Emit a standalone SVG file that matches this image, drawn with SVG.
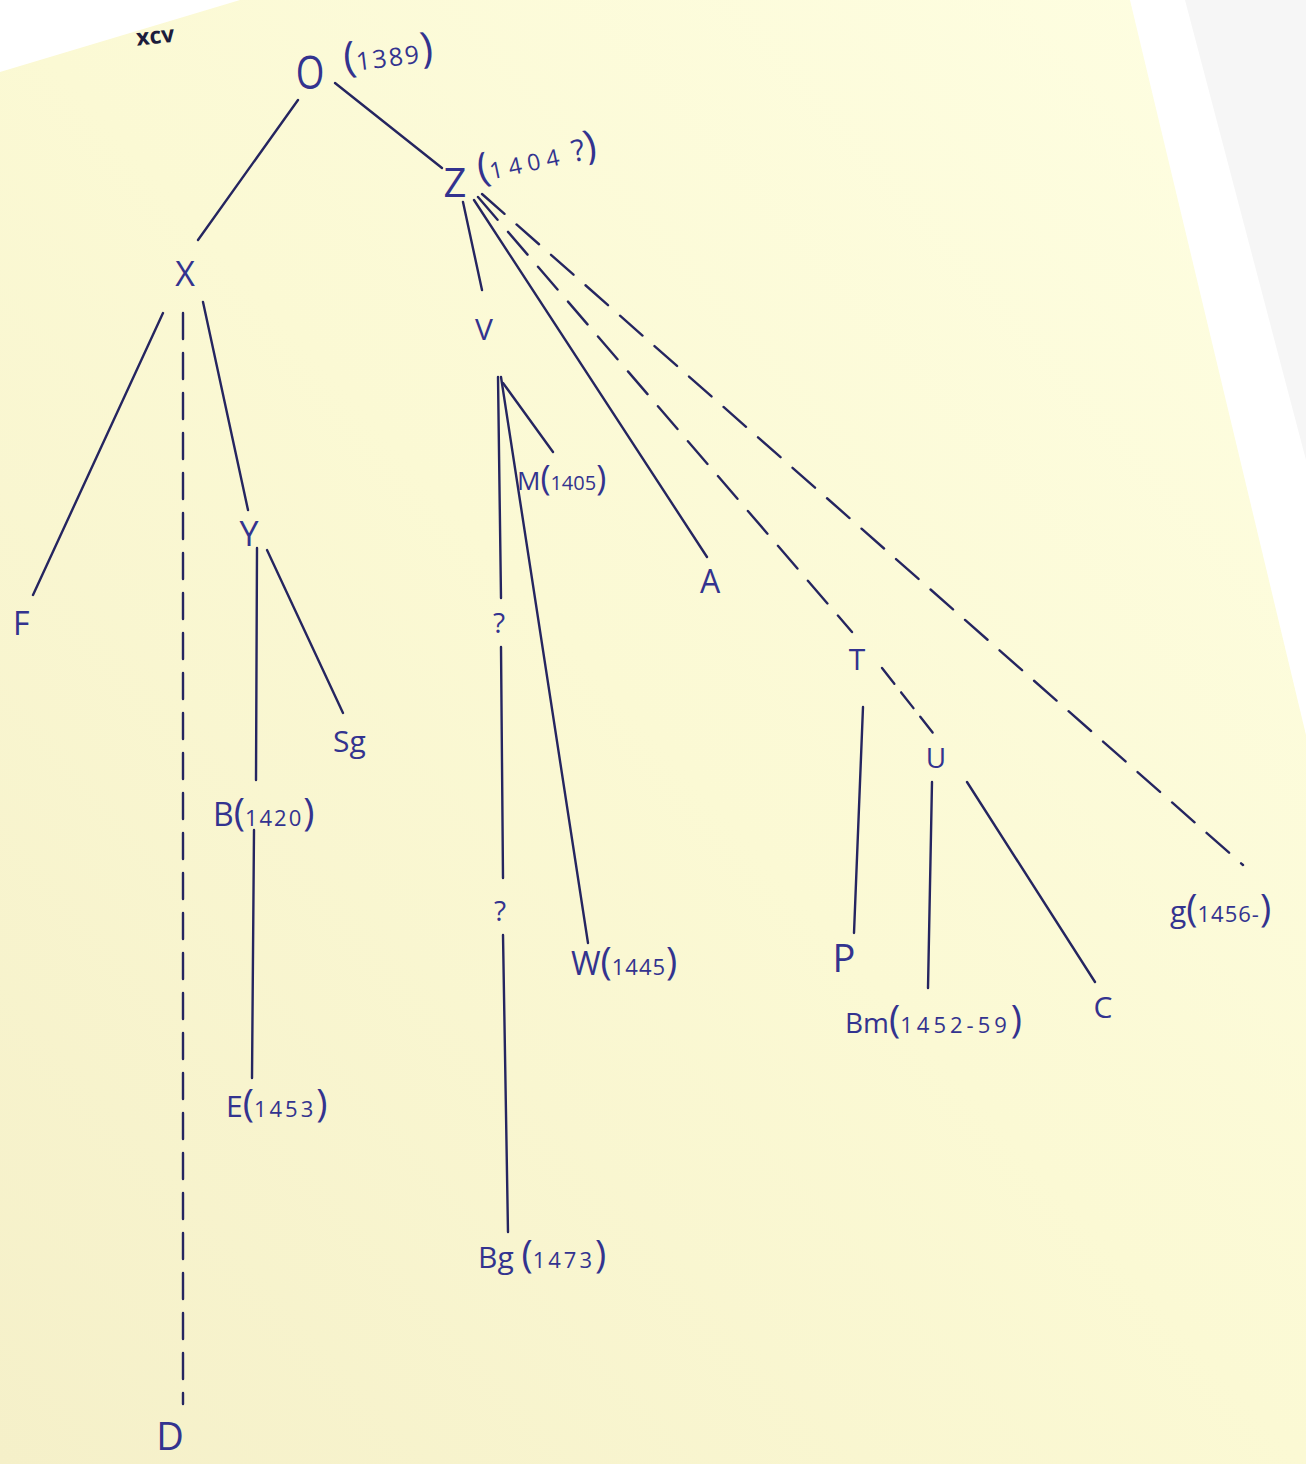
<svg xmlns="http://www.w3.org/2000/svg" width="1306" height="1464" viewBox="0 0 1306 1464">
<defs>
<linearGradient id="paper" x1="1" y1="0" x2="0" y2="1">
<stop offset="0" stop-color="#fefee2"/>
<stop offset="0.5" stop-color="#fbf9d4"/>
<stop offset="1" stop-color="#f5f0c9"/>
</linearGradient>
<style>
.ln{stroke:#252560;stroke-width:2.4;fill:none;stroke-linecap:round}
.ds{stroke-dasharray:30 16}
.ds2{stroke-dasharray:20 11}
.dv{stroke-dasharray:26 14}
text{font-family:"Open Sans","Liberation Sans",sans-serif;fill:#33338f;font-weight:400}
.p{font-size:38px}
.d{font-size:22px}
</style>
</defs>
<rect width="1306" height="1464" fill="url(#paper)"/>
<polygon points="0,0 240,0 0,72" fill="#ffffff"/>
<polygon points="1130,0 1306,0 1306,735" fill="#ffffff"/>
<polygon points="1185,0 1306,0 1306,460" fill="#f6f6f6"/>

<g id="connectors">
<line class="ln" x1="298" y1="100" x2="198" y2="240"/>
<line class="ln" x1="335" y1="83" x2="442" y2="168"/>
<line class="ln" x1="463" y1="202" x2="482" y2="290"/>
<line class="ln" x1="474" y1="200" x2="707" y2="557"/>
<line class="ln ds" x1="478" y1="197" x2="852" y2="632"/>
<line class="ln ds" x1="482" y1="194" x2="1243" y2="865"/>
<line class="ln" x1="163" y1="313" x2="33" y2="595"/>
<line class="ln dv" x1="183" y1="313" x2="183" y2="1404"/>
<line class="ln" x1="203" y1="302" x2="248" y2="510"/>
<line class="ln" x1="257" y1="548" x2="256" y2="780"/>
<line class="ln" x1="267" y1="550" x2="343" y2="713"/>
<line class="ln" x1="254" y1="830" x2="252" y2="1078"/>
<line class="ln" x1="498" y1="377" x2="501" y2="598"/>
<line class="ln" x1="501" y1="647" x2="503" y2="878"/>
<line class="ln" x1="503" y1="935" x2="508" y2="1232"/>
<line class="ln" x1="501" y1="377" x2="588" y2="943"/>
<line class="ln" x1="503" y1="383" x2="553" y2="452"/>
<line class="ln" x1="863" y1="707" x2="854" y2="933"/>
<line class="ln ds2" x1="882" y1="668" x2="933" y2="733"/>
<line class="ln" x1="932" y1="782" x2="928" y2="988"/>
<line class="ln" x1="967" y1="782" x2="1095" y2="982"/>
</g>

<g id="label-xcv"><text x="136" y="44" font-size="23" style="fill:#1c1c3c;font-weight:700" transform="rotate(-6 152 36)">xcv</text></g>
<g id="node-O"><text transform="translate(310,89) scale(0.8,1)" text-anchor="middle" font-size="46">O</text>
<text x="345" y="72" transform="rotate(-7 345 72)"><tspan font-size="42">(</tspan><tspan font-size="25" letter-spacing="2">1389</tspan><tspan font-size="42">)</tspan></text></g>
<g id="node-Z"><text x="455" y="197" text-anchor="middle" font-size="40">Z</text>
<text x="480" y="182" transform="rotate(-12 480 182)"><tspan font-size="40">(</tspan><tspan font-size="23" letter-spacing="6">1404</tspan><tspan font-size="30"> ?</tspan><tspan font-size="40">)</tspan></text></g>
<g id="node-X"><text x="185" y="286" text-anchor="middle" font-size="34">X</text></g>
<g id="node-F"><text x="13" y="635" font-size="32">F</text></g>
<g id="node-Y"><text x="249" y="546" text-anchor="middle" font-size="34">Y</text></g>
<g id="node-Sg"><text x="333" y="752" font-size="30">Sg</text></g>
<g id="node-B"><text x="213" y="826"><tspan font-size="32">B</tspan><tspan class="p">(</tspan><tspan class="d" letter-spacing="2">1420</tspan><tspan class="p">)</tspan></text></g>
<g id="node-E"><text x="226" y="1117"><tspan font-size="30">E</tspan><tspan class="p">(</tspan><tspan class="d" letter-spacing="3">1453</tspan><tspan class="p">)</tspan></text></g>
<g id="node-D"><text x="170" y="1450" text-anchor="middle" font-size="38">D</text></g>
<g id="node-V"><text x="484" y="340" text-anchor="middle" font-size="30">V</text></g>
<g id="node-M"><text x="517" y="490"><tspan font-size="26">M</tspan><tspan font-size="34">(</tspan><tspan font-size="20">1405</tspan><tspan font-size="34">)</tspan></text></g>
<g id="node-A"><text x="710" y="593" text-anchor="middle" font-size="32">A</text></g>
<g id="node-q1"><text x="499" y="633" text-anchor="middle" font-size="28">?</text></g>
<g id="node-q2"><text x="500" y="921" text-anchor="middle" font-size="28">?</text></g>
<g id="node-W"><text x="571" y="975"><tspan font-size="32">W</tspan><tspan class="p">(</tspan><tspan class="d" font-size="20" letter-spacing="1">1445</tspan><tspan class="p">)</tspan></text></g>
<g id="node-Bg"><text x="478" y="1268"><tspan font-size="30">Bg</tspan><tspan font-size="30"> </tspan><tspan class="p">(</tspan><tspan class="d" letter-spacing="3">1473</tspan><tspan class="p">)</tspan></text></g>
<g id="node-T"><text x="857" y="670" text-anchor="middle" font-size="30">T</text></g>
<g id="node-U"><text x="936" y="768" text-anchor="middle" font-size="28">U</text></g>
<g id="node-P"><text x="844" y="972" text-anchor="middle" font-size="38">P</text></g>
<g id="node-Bm"><text x="845" y="1033"><tspan font-size="28">Bm</tspan><tspan class="p">(</tspan><tspan font-size="22" letter-spacing="4">1452-59</tspan><tspan class="p">)</tspan></text></g>
<g id="node-C"><text x="1103" y="1018" text-anchor="middle" font-size="30">C</text></g>
<g id="node-g"><text x="1170" y="922"><tspan font-size="30">g</tspan><tspan class="p">(</tspan><tspan class="d" letter-spacing="1">1456-</tspan><tspan class="p">)</tspan></text></g>
</svg>
